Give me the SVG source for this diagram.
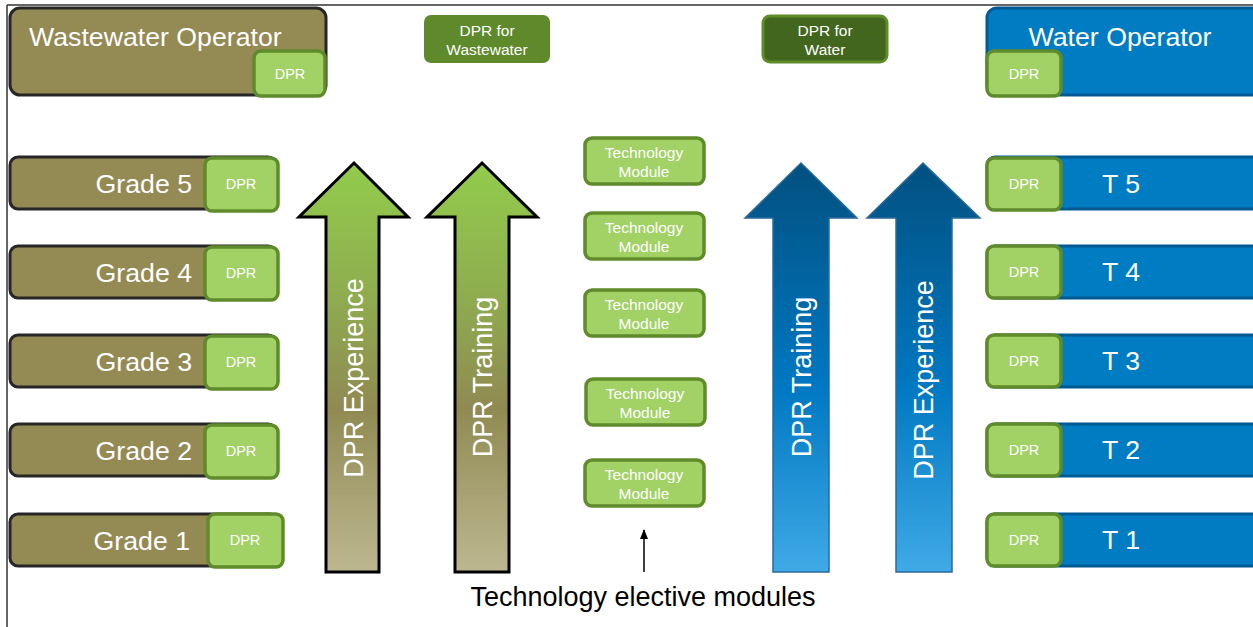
<svg xmlns="http://www.w3.org/2000/svg" width="1253" height="627" viewBox="0 0 1253 627">
<defs>
<linearGradient id="gGreen" x1="0" y1="0" x2="0" y2="1">
<stop offset="0" stop-color="#92CC4C"/>
<stop offset="0.3" stop-color="#8FAF4F"/>
<stop offset="0.6" stop-color="#908A52"/>
<stop offset="1" stop-color="#BDB791"/>
</linearGradient>
<linearGradient id="gBlue" x1="0" y1="0" x2="0" y2="1">
<stop offset="0" stop-color="#02507F"/>
<stop offset="0.55" stop-color="#0078C2"/>
<stop offset="1" stop-color="#3FAAE6"/>
</linearGradient>
<marker id="arr" markerWidth="10" markerHeight="8" refX="9" refY="4" orient="auto" markerUnits="userSpaceOnUse" viewBox="0 0 10 8">
<path d="M0,0 L10,4 L0,8 Z" fill="#000"/>
</marker>
</defs>
<style>
.olive{fill:#948A54;stroke:#262626;stroke-width:3}
.blue{fill:#007CC2;stroke:#005A94;stroke-width:3}
.dpr{fill:#A2D265;stroke:#5F8B2A;stroke-width:3.5}
.t{font-family:"Liberation Sans",Arial,sans-serif;fill:#fff}
.big{font-size:26.7px}
.sm{font-size:14.5px;text-anchor:middle}
.md{font-size:15.5px;text-anchor:middle}
.vert{font-size:27px;text-anchor:middle}
.ga{stroke:#000;stroke-width:3;fill:url(#gGreen)}
.ba{stroke:#2A6A9A;stroke-width:1.5;fill:url(#gBlue)}
</style>
<rect width="1253" height="627" fill="#fff"/>
<g id="frame" stroke="#333" stroke-width="1.5" fill="none">
<line x1="7" y1="5" x2="1253" y2="5"/>
<line x1="7" y1="5" x2="7" y2="627"/>
</g>

<g id="wastewater-operator">
<rect class="olive" x="10" y="8" width="316" height="87" rx="10"/>
<text class="t big" x="29" y="46">Wastewater Operator</text>
<rect class="dpr" x="254" y="51" width="71" height="45" rx="7"/>
<text class="t sm" x="290" y="79">DPR</text>
</g>

<g id="grade5">
<rect class="olive" x="10" y="157" width="266" height="52" rx="8"/>
<text class="t big" x="192" y="193" text-anchor="end">Grade 5</text>
<rect class="dpr" x="205" y="158" width="73" height="53" rx="7"/>
<text class="t sm" x="241" y="189">DPR</text>
</g>
<g id="grade4">
<rect class="olive" x="10" y="246" width="266" height="52" rx="8"/>
<text class="t big" x="192" y="282" text-anchor="end">Grade 4</text>
<rect class="dpr" x="205" y="247" width="73" height="53" rx="7"/>
<text class="t sm" x="241" y="278">DPR</text>
</g>
<g id="grade3">
<rect class="olive" x="10" y="335" width="266" height="52" rx="8"/>
<text class="t big" x="192" y="371" text-anchor="end">Grade 3</text>
<rect class="dpr" x="205" y="336" width="73" height="53" rx="7"/>
<text class="t sm" x="241" y="367">DPR</text>
</g>
<g id="grade2">
<rect class="olive" x="10" y="424" width="266" height="52" rx="8"/>
<text class="t big" x="192" y="460" text-anchor="end">Grade 2</text>
<rect class="dpr" x="205" y="425" width="73" height="53" rx="7"/>
<text class="t sm" x="241" y="456">DPR</text>
</g>
<g id="grade1">
<rect class="olive" x="10" y="514" width="268" height="52" rx="8"/>
<text class="t big" x="190" y="550" text-anchor="end">Grade 1</text>
<rect class="dpr" x="208" y="514" width="75" height="53" rx="7"/>
<text class="t sm" x="245" y="545">DPR</text>
</g>

<g id="arrow-ww-experience">
<polygon class="ga" points="354,163 408,217 379,217 379,572 326,572 326,217 299,217"/>
<text class="t vert" transform="translate(363,378) rotate(-90)">DPR Experience</text>
</g>
<g id="arrow-ww-training">
<polygon class="ga" points="482,163 537,217 509,217 509,572 455,572 455,217 427,217"/>
<text class="t vert" transform="translate(492,377) rotate(-90)">DPR Training</text>
</g>

<g id="dpr-for-wastewater">
<rect x="424" y="15" width="126" height="48" rx="7" fill="#5E8A2C"/>
<text class="t md" x="487" y="36">DPR for</text>
<text class="t md" x="487" y="55">Wastewater</text>
</g>
<g id="dpr-for-water">
<rect x="763" y="16" width="124" height="46" rx="7" fill="#43661E" stroke="#5F8B2A" stroke-width="3"/>
<text class="t md" x="825" y="36">DPR for</text>
<text class="t md" x="825" y="55">Water</text>
</g>

<g id="tech1">
<rect class="dpr" x="585" y="138" width="119" height="46" rx="7"/>
<text class="t md" x="644" y="158">Technology</text>
<text class="t md" x="644" y="177">Module</text>
</g>
<g id="tech2">
<rect class="dpr" x="585" y="213" width="119" height="46" rx="7"/>
<text class="t md" x="644" y="233">Technology</text>
<text class="t md" x="644" y="252">Module</text>
</g>
<g id="tech3">
<rect class="dpr" x="585" y="290" width="119" height="46" rx="7"/>
<text class="t md" x="644" y="310">Technology</text>
<text class="t md" x="644" y="329">Module</text>
</g>
<g id="tech4">
<rect class="dpr" x="586" y="379" width="119" height="46" rx="7"/>
<text class="t md" x="645" y="399">Technology</text>
<text class="t md" x="645" y="418">Module</text>
</g>
<g id="tech5">
<rect class="dpr" x="585" y="460" width="119" height="46" rx="7"/>
<text class="t md" x="644" y="480">Technology</text>
<text class="t md" x="644" y="499">Module</text>
</g>

<g id="connectors">
<line x1="644" y1="572" x2="644" y2="530" stroke="#000" stroke-width="1.5" marker-end="url(#arr)"/>
</g>
<g id="elective-label">
<text x="643" y="606" font-family="&quot;Liberation Sans&quot;,Arial,sans-serif" font-size="27" fill="#000" text-anchor="middle">Technology elective modules</text>
</g>

<g id="arrow-w-training">
<polygon class="ba" points="801,163 857,218 829,218 829,572 773,572 773,218 745,218"/>
<text class="t vert" transform="translate(811,377) rotate(-90)">DPR Training</text>
</g>
<g id="arrow-w-experience">
<polygon class="ba" points="923,163 980,218 952,218 952,572 896,572 896,218 867,218"/>
<text class="t vert" transform="translate(933,380) rotate(-90)">DPR Experience</text>
</g>

<g id="water-operator">
<rect class="blue" x="987" y="8" width="290" height="87" rx="10"/>
<text class="t big" x="1120" y="46" text-anchor="middle">Water Operator</text>
<rect class="dpr" x="987" y="51" width="74" height="45" rx="7"/>
<text class="t sm" x="1024" y="79">DPR</text>
</g>
<g id="t5">
<rect class="blue" x="987" y="157" width="290" height="52" rx="8"/>
<rect class="dpr" x="987" y="158" width="74" height="52" rx="7"/>
<text class="t sm" x="1024" y="189">DPR</text>
<text class="t big" x="1102" y="193">T 5</text>
</g>
<g id="t4">
<rect class="blue" x="987" y="246" width="290" height="52" rx="8"/>
<rect class="dpr" x="987" y="246" width="74" height="52" rx="7"/>
<text class="t sm" x="1024" y="277">DPR</text>
<text class="t big" x="1102" y="281">T 4</text>
</g>
<g id="t3">
<rect class="blue" x="987" y="335" width="290" height="52" rx="8"/>
<rect class="dpr" x="987" y="335" width="74" height="52" rx="7"/>
<text class="t sm" x="1024" y="366">DPR</text>
<text class="t big" x="1102" y="370">T 3</text>
</g>
<g id="t2">
<rect class="blue" x="987" y="424" width="290" height="52" rx="8"/>
<rect class="dpr" x="987" y="424" width="74" height="52" rx="7"/>
<text class="t sm" x="1024" y="455">DPR</text>
<text class="t big" x="1102" y="459">T 2</text>
</g>
<g id="t1">
<rect class="blue" x="987" y="514" width="290" height="52" rx="8"/>
<rect class="dpr" x="987" y="514" width="74" height="52" rx="7"/>
<text class="t sm" x="1024" y="545">DPR</text>
<text class="t big" x="1102" y="549">T 1</text>
</g>
</svg>
